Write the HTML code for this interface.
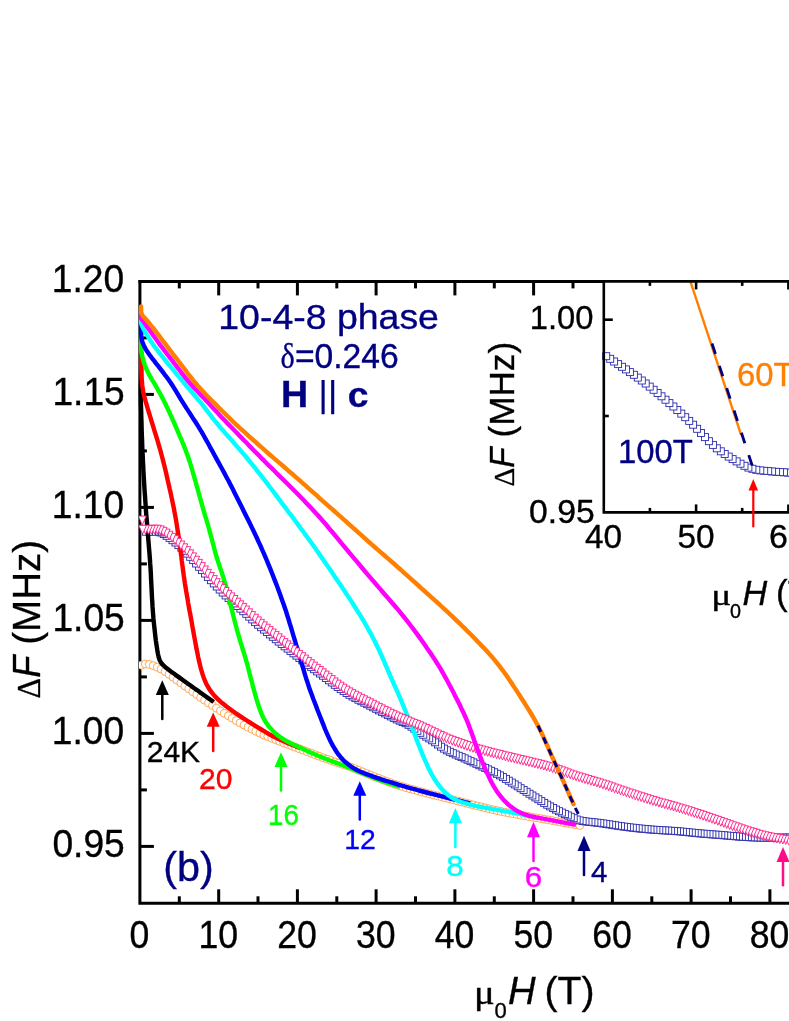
<!DOCTYPE html>
<html><head><meta charset="utf-8"><title>chart</title>
<style>html,body{margin:0;padding:0;background:#fff;}svg{display:block;will-change:transform;}text{font-family:"Liberation Sans",sans-serif;}.sf{font-family:"Liberation Serif",serif;}</style></head><body>
<svg width="789" height="1021" viewBox="0 0 789 1021">
<rect width="789" height="1021" fill="#fff"/>
<defs><clipPath id="pc"><rect x="139" y="281" width="660" height="622"/></clipPath></defs>
<g stroke="#000" stroke-width="3" fill="none" stroke-linecap="butt">
<path d="M139.9 280 V903.3 H789"/>
<path d="M138.5 281.4 H789"/>
</g>
<g stroke="#000" stroke-width="3" fill="none">
<path d="M179.3 903.3 v-7"/>
<path d="M179.3 281.4 v7"/>
<path d="M218.7 903.3 v-14"/>
<path d="M218.7 281.4 v14"/>
<path d="M258 903.3 v-7"/>
<path d="M258 281.4 v7"/>
<path d="M297.4 903.3 v-14"/>
<path d="M297.4 281.4 v14"/>
<path d="M336.8 903.3 v-7"/>
<path d="M336.8 281.4 v7"/>
<path d="M376.1 903.3 v-14"/>
<path d="M376.1 281.4 v14"/>
<path d="M415.5 903.3 v-7"/>
<path d="M415.5 281.4 v7"/>
<path d="M454.9 903.3 v-14"/>
<path d="M454.9 281.4 v14"/>
<path d="M494.3 903.3 v-7"/>
<path d="M494.3 281.4 v7"/>
<path d="M533.6 903.3 v-14"/>
<path d="M533.6 281.4 v14"/>
<path d="M573 903.3 v-7"/>
<path d="M573 281.4 v7"/>
<path d="M612.4 903.3 v-14"/>
<path d="M651.8 903.3 v-7"/>
<path d="M691.1 903.3 v-14"/>
<path d="M730.5 903.3 v-7"/>
<path d="M769.9 903.3 v-14"/>
<path d="M139.9 337.9 h7"/>
<path d="M139.9 394.4 h14"/>
<path d="M139.9 450.9 h7"/>
<path d="M139.9 507.4 h14"/>
<path d="M139.9 563.9 h7"/>
<path d="M139.9 620.4 h14"/>
<path d="M139.9 676.9 h7"/>
<path d="M139.9 733.4 h14"/>
<path d="M139.9 789.9 h7"/>
<path d="M139.9 846.4 h14"/>
</g>
<g clip-path="url(#pc)" fill="#fff" stroke="#ff9a3a" stroke-width="0.85">
<circle cx="141.4" cy="665.2" r="3.95"/>
<circle cx="145.3" cy="664" r="3.95"/>
<circle cx="149.3" cy="664.4" r="3.95"/>
<circle cx="153.2" cy="665.6" r="3.95"/>
<circle cx="157.2" cy="667.2" r="3.95"/>
<circle cx="161.1" cy="669.1" r="3.95"/>
<circle cx="165.1" cy="671.6" r="3.95"/>
<circle cx="169" cy="674.3" r="3.95"/>
<circle cx="173" cy="677.2" r="3.95"/>
<circle cx="176.9" cy="680.2" r="3.95"/>
<circle cx="180.9" cy="683" r="3.95"/>
<circle cx="184.8" cy="685.9" r="3.95"/>
<circle cx="188.8" cy="688.8" r="3.95"/>
<circle cx="192.7" cy="691.7" r="3.95"/>
<circle cx="196.7" cy="694.6" r="3.95"/>
<circle cx="200.6" cy="697.5" r="3.95"/>
<circle cx="204.6" cy="700.2" r="3.95"/>
<circle cx="208.5" cy="702.9" r="3.95"/>
<circle cx="212.5" cy="705.6" r="3.95"/>
<circle cx="216.4" cy="708.2" r="3.95"/>
<circle cx="220.4" cy="710.8" r="3.95"/>
<circle cx="224.3" cy="713.3" r="3.95"/>
<circle cx="228.3" cy="715.8" r="3.95"/>
<circle cx="232.2" cy="718.2" r="3.95"/>
<circle cx="236.2" cy="720.6" r="3.95"/>
<circle cx="240.1" cy="722.9" r="3.95"/>
<circle cx="244.1" cy="725.1" r="3.95"/>
<circle cx="248" cy="727.3" r="3.95"/>
<circle cx="252" cy="729.3" r="3.95"/>
<circle cx="255.9" cy="731.3" r="3.95"/>
<circle cx="259.9" cy="733.2" r="3.95"/>
<circle cx="263.8" cy="735" r="3.95"/>
<circle cx="267.8" cy="736.6" r="3.95"/>
<circle cx="271.7" cy="738.2" r="3.95"/>
<circle cx="275.7" cy="739.7" r="3.95"/>
<circle cx="279.6" cy="741.3" r="3.95"/>
<circle cx="283.6" cy="742.8" r="3.95"/>
<circle cx="287.5" cy="744.3" r="3.95"/>
<circle cx="291.5" cy="745.8" r="3.95"/>
<circle cx="295.4" cy="747.3" r="3.95"/>
<circle cx="299.4" cy="748.7" r="3.95"/>
<circle cx="303.3" cy="750.2" r="3.95"/>
<circle cx="307.3" cy="751.7" r="3.95"/>
<circle cx="311.2" cy="753.2" r="3.95"/>
<circle cx="315.2" cy="754.7" r="3.95"/>
<circle cx="319.1" cy="756.2" r="3.95"/>
<circle cx="323.1" cy="757.7" r="3.95"/>
<circle cx="327" cy="759.1" r="3.95"/>
<circle cx="331" cy="760.5" r="3.95"/>
<circle cx="334.9" cy="761.9" r="3.95"/>
<circle cx="338.9" cy="763.1" r="3.95"/>
<circle cx="342.8" cy="764.4" r="3.95"/>
<circle cx="346.8" cy="765.6" r="3.95"/>
<circle cx="350.7" cy="767" r="3.95"/>
<circle cx="354.7" cy="768.5" r="3.95"/>
<circle cx="358.6" cy="770.2" r="3.95"/>
<circle cx="362.6" cy="771.8" r="3.95"/>
<circle cx="366.5" cy="773.4" r="3.95"/>
<circle cx="370.5" cy="775" r="3.95"/>
<circle cx="374.4" cy="776.6" r="3.95"/>
<circle cx="378.4" cy="778.1" r="3.95"/>
<circle cx="382.3" cy="779.7" r="3.95"/>
<circle cx="386.3" cy="781.2" r="3.95"/>
<circle cx="390.2" cy="782.6" r="3.95"/>
<circle cx="394.2" cy="784" r="3.95"/>
<circle cx="398.1" cy="785.3" r="3.95"/>
<circle cx="402.1" cy="786.5" r="3.95"/>
<circle cx="406" cy="787.7" r="3.95"/>
<circle cx="410" cy="788.8" r="3.95"/>
<circle cx="413.9" cy="789.8" r="3.95"/>
<circle cx="417.9" cy="790.9" r="3.95"/>
<circle cx="421.8" cy="791.9" r="3.95"/>
<circle cx="425.8" cy="793" r="3.95"/>
<circle cx="429.7" cy="794" r="3.95"/>
<circle cx="433.7" cy="795" r="3.95"/>
<circle cx="437.6" cy="795.9" r="3.95"/>
<circle cx="441.6" cy="796.9" r="3.95"/>
<circle cx="445.5" cy="797.9" r="3.95"/>
<circle cx="449.5" cy="798.9" r="3.95"/>
<circle cx="453.4" cy="799.9" r="3.95"/>
<circle cx="457.4" cy="800.9" r="3.95"/>
<circle cx="461.3" cy="801.9" r="3.95"/>
<circle cx="465.3" cy="802.9" r="3.95"/>
<circle cx="469.2" cy="803.9" r="3.95"/>
<circle cx="473.2" cy="804.9" r="3.95"/>
<circle cx="477.1" cy="805.9" r="3.95"/>
<circle cx="481.1" cy="806.8" r="3.95"/>
<circle cx="485" cy="807.8" r="3.95"/>
<circle cx="489" cy="808.8" r="3.95"/>
<circle cx="492.9" cy="809.7" r="3.95"/>
<circle cx="496.9" cy="810.6" r="3.95"/>
<circle cx="500.8" cy="811.4" r="3.95"/>
<circle cx="504.8" cy="812.2" r="3.95"/>
<circle cx="508.7" cy="813" r="3.95"/>
<circle cx="512.7" cy="813.7" r="3.95"/>
<circle cx="516.6" cy="814.4" r="3.95"/>
<circle cx="520.6" cy="815.1" r="3.95"/>
<circle cx="524.5" cy="815.8" r="3.95"/>
<circle cx="528.5" cy="816.5" r="3.95"/>
<circle cx="532.4" cy="817.2" r="3.95"/>
<circle cx="536.4" cy="817.9" r="3.95"/>
<circle cx="540.3" cy="818.5" r="3.95"/>
<circle cx="544.3" cy="819.2" r="3.95"/>
<circle cx="548.2" cy="819.9" r="3.95"/>
<circle cx="552.2" cy="820.6" r="3.95"/>
<circle cx="556.1" cy="821.3" r="3.95"/>
<circle cx="560.1" cy="822" r="3.95"/>
<circle cx="564" cy="822.7" r="3.95"/>
<circle cx="568" cy="823.4" r="3.95"/>
<circle cx="571.9" cy="824.1" r="3.95"/>
<circle cx="575.9" cy="824.8" r="3.95"/>
<circle cx="579.8" cy="825.5" r="3.95"/>
</g>
<g clip-path="url(#pc)" fill="#fff" stroke="#2a2aac" stroke-width="0.9">
<rect x="788.6" y="834.1" width="7.0" height="7.0"/>
<rect x="785.6" y="834.1" width="7.0" height="7.0"/>
<rect x="782.7" y="834.1" width="7.0" height="7.0"/>
<rect x="779.7" y="834.1" width="7.0" height="7.0"/>
<rect x="776.8" y="834.2" width="7.0" height="7.0"/>
<rect x="773.8" y="834.2" width="7.0" height="7.0"/>
<rect x="770.9" y="834.2" width="7.0" height="7.0"/>
<rect x="767.9" y="834.2" width="7.0" height="7.0"/>
<rect x="765" y="834.2" width="7.0" height="7.0"/>
<rect x="762" y="834.1" width="7.0" height="7.0"/>
<rect x="759.1" y="834.1" width="7.0" height="7.0"/>
<rect x="756.1" y="834.1" width="7.0" height="7.0"/>
<rect x="753.2" y="834" width="7.0" height="7.0"/>
<rect x="750.2" y="833.9" width="7.0" height="7.0"/>
<rect x="747.3" y="833.8" width="7.0" height="7.0"/>
<rect x="744.3" y="833.6" width="7.0" height="7.0"/>
<rect x="741.4" y="833.5" width="7.0" height="7.0"/>
<rect x="738.4" y="833.3" width="7.0" height="7.0"/>
<rect x="735.5" y="833.1" width="7.0" height="7.0"/>
<rect x="732.5" y="832.8" width="7.0" height="7.0"/>
<rect x="729.6" y="832.6" width="7.0" height="7.0"/>
<rect x="726.6" y="832.3" width="7.0" height="7.0"/>
<rect x="723.7" y="832.1" width="7.0" height="7.0"/>
<rect x="720.7" y="831.8" width="7.0" height="7.0"/>
<rect x="717.8" y="831.6" width="7.0" height="7.0"/>
<rect x="714.8" y="831.3" width="7.0" height="7.0"/>
<rect x="711.9" y="831.1" width="7.0" height="7.0"/>
<rect x="708.9" y="830.9" width="7.0" height="7.0"/>
<rect x="706" y="830.7" width="7.0" height="7.0"/>
<rect x="703" y="830.4" width="7.0" height="7.0"/>
<rect x="700.1" y="830.2" width="7.0" height="7.0"/>
<rect x="697.1" y="830" width="7.0" height="7.0"/>
<rect x="694.2" y="829.7" width="7.0" height="7.0"/>
<rect x="691.2" y="829.4" width="7.0" height="7.0"/>
<rect x="688.3" y="829.1" width="7.0" height="7.0"/>
<rect x="685.3" y="828.8" width="7.0" height="7.0"/>
<rect x="682.4" y="828.5" width="7.0" height="7.0"/>
<rect x="679.4" y="828.2" width="7.0" height="7.0"/>
<rect x="676.5" y="827.9" width="7.0" height="7.0"/>
<rect x="673.5" y="827.7" width="7.0" height="7.0"/>
<rect x="670.6" y="827.4" width="7.0" height="7.0"/>
<rect x="667.6" y="827.3" width="7.0" height="7.0"/>
<rect x="664.7" y="827.1" width="7.0" height="7.0"/>
<rect x="661.7" y="826.9" width="7.0" height="7.0"/>
<rect x="658.8" y="826.8" width="7.0" height="7.0"/>
<rect x="655.8" y="826.6" width="7.0" height="7.0"/>
<rect x="652.9" y="826.4" width="7.0" height="7.0"/>
<rect x="649.9" y="826.2" width="7.0" height="7.0"/>
<rect x="647" y="826" width="7.0" height="7.0"/>
<rect x="644" y="825.7" width="7.0" height="7.0"/>
<rect x="641.1" y="825.4" width="7.0" height="7.0"/>
<rect x="638.1" y="825.2" width="7.0" height="7.0"/>
<rect x="635.2" y="824.9" width="7.0" height="7.0"/>
<rect x="632.2" y="824.6" width="7.0" height="7.0"/>
<rect x="629.3" y="824.2" width="7.0" height="7.0"/>
<rect x="626.3" y="823.9" width="7.0" height="7.0"/>
<rect x="623.4" y="823.5" width="7.0" height="7.0"/>
<rect x="620.4" y="823.1" width="7.0" height="7.0"/>
<rect x="617.5" y="822.7" width="7.0" height="7.0"/>
<rect x="614.5" y="822.3" width="7.0" height="7.0"/>
<rect x="611.6" y="821.8" width="7.0" height="7.0"/>
<rect x="608.6" y="821.3" width="7.0" height="7.0"/>
<rect x="605.7" y="820.9" width="7.0" height="7.0"/>
<rect x="602.7" y="820.4" width="7.0" height="7.0"/>
<rect x="599.8" y="820" width="7.0" height="7.0"/>
<rect x="596.8" y="819.6" width="7.0" height="7.0"/>
<rect x="593.8" y="819.2" width="7.0" height="7.0"/>
<rect x="590.9" y="818.9" width="7.0" height="7.0"/>
<rect x="587.9" y="818.6" width="7.0" height="7.0"/>
<rect x="585" y="818.3" width="7.0" height="7.0"/>
<rect x="582" y="817.9" width="7.0" height="7.0"/>
<rect x="579.1" y="817.5" width="7.0" height="7.0"/>
<rect x="576.1" y="816.9" width="7.0" height="7.0"/>
<rect x="573.2" y="816" width="7.0" height="7.0"/>
<rect x="570.2" y="814.7" width="7.0" height="7.0"/>
<rect x="567.3" y="813.3" width="7.0" height="7.0"/>
<rect x="564.3" y="811.9" width="7.0" height="7.0"/>
<rect x="561.4" y="810.6" width="7.0" height="7.0"/>
<rect x="558.4" y="809.1" width="7.0" height="7.0"/>
<rect x="555.5" y="807.7" width="7.0" height="7.0"/>
<rect x="552.5" y="806.1" width="7.0" height="7.0"/>
<rect x="549.6" y="804.5" width="7.0" height="7.0"/>
<rect x="546.6" y="802.9" width="7.0" height="7.0"/>
<rect x="543.7" y="801.2" width="7.0" height="7.0"/>
<rect x="540.7" y="799.4" width="7.0" height="7.0"/>
<rect x="537.8" y="797.6" width="7.0" height="7.0"/>
<rect x="534.8" y="795.7" width="7.0" height="7.0"/>
<rect x="531.9" y="793.9" width="7.0" height="7.0"/>
<rect x="528.9" y="792" width="7.0" height="7.0"/>
<rect x="526" y="790.2" width="7.0" height="7.0"/>
<rect x="523" y="788.3" width="7.0" height="7.0"/>
<rect x="520.1" y="786.5" width="7.0" height="7.0"/>
<rect x="517.1" y="784.7" width="7.0" height="7.0"/>
<rect x="514.2" y="782.8" width="7.0" height="7.0"/>
<rect x="511.2" y="780.9" width="7.0" height="7.0"/>
<rect x="508.3" y="779.1" width="7.0" height="7.0"/>
<rect x="505.3" y="777.2" width="7.0" height="7.0"/>
<rect x="502.4" y="775.4" width="7.0" height="7.0"/>
<rect x="499.4" y="773.6" width="7.0" height="7.0"/>
<rect x="496.5" y="771.9" width="7.0" height="7.0"/>
<rect x="493.5" y="770.3" width="7.0" height="7.0"/>
<rect x="490.6" y="768.8" width="7.0" height="7.0"/>
<rect x="487.6" y="767.3" width="7.0" height="7.0"/>
<rect x="484.7" y="765.9" width="7.0" height="7.0"/>
<rect x="481.7" y="764.4" width="7.0" height="7.0"/>
<rect x="478.8" y="763.1" width="7.0" height="7.0"/>
<rect x="475.8" y="761.7" width="7.0" height="7.0"/>
<rect x="472.9" y="760.3" width="7.0" height="7.0"/>
<rect x="469.9" y="758.9" width="7.0" height="7.0"/>
<rect x="467" y="757.6" width="7.0" height="7.0"/>
<rect x="464" y="756.2" width="7.0" height="7.0"/>
<rect x="461.1" y="754.9" width="7.0" height="7.0"/>
<rect x="458.1" y="753.6" width="7.0" height="7.0"/>
<rect x="455.2" y="752.3" width="7.0" height="7.0"/>
<rect x="452.2" y="751" width="7.0" height="7.0"/>
<rect x="449.3" y="749.7" width="7.0" height="7.0"/>
<rect x="446.3" y="748.3" width="7.0" height="7.0"/>
<rect x="443.4" y="746.8" width="7.0" height="7.0"/>
<rect x="440.4" y="745.1" width="7.0" height="7.0"/>
<rect x="437.5" y="743.2" width="7.0" height="7.0"/>
<rect x="434.5" y="741" width="7.0" height="7.0"/>
<rect x="431.6" y="738.8" width="7.0" height="7.0"/>
<rect x="428.6" y="736.8" width="7.0" height="7.0"/>
<rect x="425.7" y="734.9" width="7.0" height="7.0"/>
<rect x="422.7" y="733.1" width="7.0" height="7.0"/>
<rect x="419.8" y="731.2" width="7.0" height="7.0"/>
<rect x="416.8" y="729.3" width="7.0" height="7.0"/>
<rect x="413.9" y="727.3" width="7.0" height="7.0"/>
<rect x="410.9" y="725.2" width="7.0" height="7.0"/>
<rect x="408" y="723.2" width="7.0" height="7.0"/>
<rect x="405" y="721.3" width="7.0" height="7.0"/>
<rect x="402.1" y="719.7" width="7.0" height="7.0"/>
<rect x="399.1" y="718.5" width="7.0" height="7.0"/>
<rect x="396.2" y="717.2" width="7.0" height="7.0"/>
<rect x="393.2" y="715.9" width="7.0" height="7.0"/>
<rect x="390.3" y="714.4" width="7.0" height="7.0"/>
<rect x="387.3" y="712.9" width="7.0" height="7.0"/>
<rect x="384.4" y="711.4" width="7.0" height="7.0"/>
<rect x="381.4" y="709.9" width="7.0" height="7.0"/>
<rect x="378.5" y="708.4" width="7.0" height="7.0"/>
<rect x="375.5" y="706.9" width="7.0" height="7.0"/>
<rect x="372.6" y="705.3" width="7.0" height="7.0"/>
<rect x="369.6" y="703.8" width="7.0" height="7.0"/>
<rect x="366.7" y="702.2" width="7.0" height="7.0"/>
<rect x="363.7" y="700.7" width="7.0" height="7.0"/>
<rect x="360.8" y="699.2" width="7.0" height="7.0"/>
<rect x="357.8" y="697.7" width="7.0" height="7.0"/>
<rect x="354.9" y="696.2" width="7.0" height="7.0"/>
<rect x="351.9" y="694.6" width="7.0" height="7.0"/>
<rect x="349" y="693" width="7.0" height="7.0"/>
<rect x="346" y="691.3" width="7.0" height="7.0"/>
<rect x="343.1" y="689.5" width="7.0" height="7.0"/>
<rect x="340.1" y="687.6" width="7.0" height="7.0"/>
<rect x="337.2" y="685.6" width="7.0" height="7.0"/>
<rect x="334.2" y="683.5" width="7.0" height="7.0"/>
<rect x="331.3" y="681.3" width="7.0" height="7.0"/>
<rect x="328.3" y="679" width="7.0" height="7.0"/>
<rect x="325.4" y="676.8" width="7.0" height="7.0"/>
<rect x="322.4" y="674.5" width="7.0" height="7.0"/>
<rect x="319.5" y="672.2" width="7.0" height="7.0"/>
<rect x="316.5" y="670" width="7.0" height="7.0"/>
<rect x="313.6" y="667.9" width="7.0" height="7.0"/>
<rect x="310.6" y="665.7" width="7.0" height="7.0"/>
<rect x="307.7" y="663.6" width="7.0" height="7.0"/>
<rect x="304.7" y="661.4" width="7.0" height="7.0"/>
<rect x="301.8" y="659.1" width="7.0" height="7.0"/>
<rect x="298.8" y="656.8" width="7.0" height="7.0"/>
<rect x="295.9" y="654.5" width="7.0" height="7.0"/>
<rect x="292.9" y="652.1" width="7.0" height="7.0"/>
<rect x="290" y="649.8" width="7.0" height="7.0"/>
<rect x="287" y="647.5" width="7.0" height="7.0"/>
<rect x="284.1" y="645.1" width="7.0" height="7.0"/>
<rect x="281.1" y="642.8" width="7.0" height="7.0"/>
<rect x="278.2" y="640.5" width="7.0" height="7.0"/>
<rect x="275.2" y="638.1" width="7.0" height="7.0"/>
<rect x="272.3" y="635.7" width="7.0" height="7.0"/>
<rect x="269.3" y="633.3" width="7.0" height="7.0"/>
<rect x="266.4" y="630.9" width="7.0" height="7.0"/>
<rect x="263.4" y="628.5" width="7.0" height="7.0"/>
<rect x="260.5" y="626.1" width="7.0" height="7.0"/>
<rect x="257.5" y="623.7" width="7.0" height="7.0"/>
<rect x="254.6" y="621.2" width="7.0" height="7.0"/>
<rect x="251.6" y="618.6" width="7.0" height="7.0"/>
<rect x="248.7" y="615.9" width="7.0" height="7.0"/>
<rect x="245.7" y="613.1" width="7.0" height="7.0"/>
<rect x="242.8" y="610.3" width="7.0" height="7.0"/>
<rect x="239.8" y="607.7" width="7.0" height="7.0"/>
<rect x="236.9" y="605.1" width="7.0" height="7.0"/>
<rect x="233.9" y="602.5" width="7.0" height="7.0"/>
<rect x="231" y="599.9" width="7.0" height="7.0"/>
<rect x="228" y="597.2" width="7.0" height="7.0"/>
<rect x="225.1" y="594.6" width="7.0" height="7.0"/>
<rect x="222.1" y="591.9" width="7.0" height="7.0"/>
<rect x="219.2" y="589" width="7.0" height="7.0"/>
<rect x="216.2" y="586" width="7.0" height="7.0"/>
<rect x="213.3" y="583" width="7.0" height="7.0"/>
<rect x="210.3" y="579.9" width="7.0" height="7.0"/>
<rect x="207.4" y="576.7" width="7.0" height="7.0"/>
<rect x="204.4" y="573.4" width="7.0" height="7.0"/>
<rect x="201.5" y="570" width="7.0" height="7.0"/>
<rect x="198.5" y="566.6" width="7.0" height="7.0"/>
<rect x="195.6" y="563.3" width="7.0" height="7.0"/>
<rect x="192.6" y="560" width="7.0" height="7.0"/>
<rect x="189.7" y="556.6" width="7.0" height="7.0"/>
<rect x="186.7" y="553.3" width="7.0" height="7.0"/>
<rect x="183.8" y="550.1" width="7.0" height="7.0"/>
<rect x="180.8" y="547.2" width="7.0" height="7.0"/>
<rect x="177.9" y="544.3" width="7.0" height="7.0"/>
<rect x="174.9" y="541.6" width="7.0" height="7.0"/>
<rect x="172" y="539" width="7.0" height="7.0"/>
<rect x="169" y="536.7" width="7.0" height="7.0"/>
<rect x="166.1" y="534.4" width="7.0" height="7.0"/>
<rect x="163.1" y="532.3" width="7.0" height="7.0"/>
<rect x="160.2" y="530.5" width="7.0" height="7.0"/>
<rect x="157.2" y="529" width="7.0" height="7.0"/>
<rect x="154.3" y="528.2" width="7.0" height="7.0"/>
<rect x="151.3" y="528" width="7.0" height="7.0"/>
<rect x="148.4" y="528.2" width="7.0" height="7.0"/>
<rect x="145.4" y="528.3" width="7.0" height="7.0"/>
<rect x="142.5" y="528.2" width="7.0" height="7.0"/>
</g>
<path d="M141.1 352 L141.1 372 L141 375.6 L141 379.2 L140.9 382.9 L140.8 386.4 L140.8 389.9 L140.8 393.5 L140.9 397.4 L140.9 401.7 L141 406.3 L141.2 411.4 L141.3 416.9 L141.5 422.2 L141.6 426.9 L141.7 430.5 L141.8 433.6 L141.9 436.7 L142.1 440.1 L142.2 444.4 L142.4 449.5 L142.7 455 L142.9 460.4 L143.2 465.6 L143.4 470.7 L143.7 475.8 L144 480.8 L144.3 485.8 L144.6 490.8 L145 495.8 L145.3 500.8 L145.7 505.9 L146 511.1 L146.4 516.4 L146.9 521.8 L147.3 527.3 L147.8 532.7 L148.2 538 L148.6 543.1 L149 547.9 L149.4 552.4 L149.7 556.5 L150 560.3 L150.2 563.9 L150.5 567.6 L150.7 571.1 L150.9 574.5 L151 577.9 L151.2 581.5 L151.4 585.3 L151.6 589.4 L151.8 593.6 L152 597.8 L152.3 602 L152.5 606.2 L152.8 610.2 L153.1 614.2 L153.4 618.2 L153.8 622.1 L154.2 625.9 L154.6 629.6 L155 633.2 L155.4 636.7 L155.8 640.2 L156.3 643.6 L156.8 646.9 L157.3 650.2 L157.9 653.6 L158.6 656.9 L159.6 660 L161.1 662.8 L163.2 665.2 L165.7 667.5 L168.4 669.6 L171.2 671.7 L174.2 673.8 L177 675.9 L179.8 677.9 L182.4 679.8 L185.2 681.8 L188 683.8 L190.9 685.8 L193.9 688 L197 690.1 L199.7 692.1 L202.4 694 L205.2 696 L208.2 698.1 L211.3 700.3 L213.7 702" fill="none" stroke="#000" stroke-width="4.4" stroke-linejoin="round" />
<path d="M141.1 340 L141.1 355.7 L141.1 359.1 L141.2 362.6 L141.2 366 L141.3 369.4 L141.4 372.7 L141.5 376 L141.7 379.3 L142 382.5 L142.3 385.8 L142.8 389 L143.3 392.2 L144 395.5 L144.9 398.7 L145.8 402 L146.8 405.4 L147.8 408.9 L148.9 412.5 L150.1 416.3 L151.2 420.1 L152.4 424 L153.6 427.9 L154.8 431.8 L156 435.7 L157.2 439.5 L158.3 443.3 L159.4 447.1 L160.5 450.9 L161.5 454.7 L162.5 458.5 L163.5 462.4 L164.5 466.2 L165.4 470 L166.3 473.8 L167.1 477.6 L168 481.4 L168.9 485.2 L169.7 489 L170.6 492.8 L171.4 496.6 L172.2 500.4 L173 504.2 L173.8 508 L174.5 511.8 L175.2 515.6 L175.9 519.4 L176.5 523.2 L177.1 527 L177.7 530.8 L178.3 534.6 L178.9 538.4 L179.4 542.2 L179.9 546 L180.4 549.8 L180.9 553.6 L181.4 557.3 L181.8 561 L182.3 564.7 L182.8 568.4 L183.3 572.1 L183.8 575.9 L184.4 579.7 L184.9 583.6 L185.6 587.5 L186.2 591.4 L186.9 595.3 L187.6 599.2 L188.2 603.1 L188.9 607 L189.6 611 L190.4 614.9 L191.1 618.8 L191.8 622.6 L192.4 626.4 L193.1 630.2 L193.8 634 L194.5 637.8 L195.2 641.7 L195.9 645.5 L196.6 649.3 L197.4 653 L198.1 656.7 L198.9 660.3 L199.7 663.8 L200.5 667.1 L201.4 670.4 L202.4 673.7 L203.5 676.9 L204.7 680.1 L206 683.2 L207.6 686.2 L209.3 689.1 L211.3 691.9 L213.5 694.6 L215.8 697.2 L218.3 699.6 L220.8 701.9 L223.5 704 L226.2 706.2 L228.9 708.2 L231.6 710.2 L234.4 712.2 L237.2 714.2 L240.1 716.1 L243.1 718.1 L246.1 720 L249.1 722 L252.2 723.9 L255.2 725.8 L258.2 727.7 L261.2 729.5 L264.1 731.2 L267 733 L269.9 734.6 L272.9 736.2 L276 737.8 L279.1 739.3 L282.3 740.7 L285.4 742.1 L288.6 743.4 L291.7 744.7 L295 746 L298.4 747.4 L300 748" fill="none" stroke="#ff0000" stroke-width="4.4" stroke-linejoin="round" />
<path d="M141.1 327 L141.1 342 L141.1 345.5 L141.2 348.7 L141.4 352 L142 355.2 L142.8 358.4 L143.7 361.6 L144.7 364.7 L145.8 367.7 L147.2 370.7 L148.6 373.6 L150.1 376.4 L151.7 379.2 L153.4 381.9 L155.1 384.7 L156.7 387.5 L158.3 390.4 L159.9 393.3 L161.5 396.2 L163.1 399.3 L164.7 402.4 L166.3 405.6 L167.9 409.1 L169.5 412.6 L171.2 416.3 L172.9 420.1 L174.6 424 L176.3 427.9 L178 431.8 L179.6 435.7 L181.3 439.5 L182.9 443.3 L184.4 447.1 L185.9 450.9 L187.3 454.7 L188.6 458.5 L189.9 462.4 L191.1 466.2 L192.2 470 L193.3 473.8 L194.4 477.6 L195.5 481.4 L196.5 485.2 L197.6 489 L198.7 492.8 L199.7 496.6 L200.8 500.4 L201.8 504.2 L202.9 508 L204 511.8 L205.1 515.6 L206.3 519.4 L207.4 523.2 L208.5 527 L209.5 530.8 L210.6 534.6 L211.6 538.4 L212.6 542.2 L213.6 546 L214.6 549.8 L215.6 553.6 L216.7 557.3 L217.9 561 L219.1 564.7 L220.3 568.4 L221.6 572.1 L222.8 575.8 L224 579.6 L225.1 583.3 L226.2 587 L227.1 590.6 L228 594 L228.9 597.5 L229.7 600.9 L230.5 604.5 L231.4 608.2 L232.4 612 L233.3 615.8 L234.3 619.6 L235.3 623.5 L236.3 627.2 L237.3 631 L238.4 634.8 L239.5 638.6 L240.6 642.4 L241.8 646.2 L243 650 L244.2 653.8 L245.3 657.6 L246.4 661.4 L247.5 665.2 L248.5 669 L249.4 672.8 L250.4 676.6 L251.4 680.4 L252.4 684.3 L253.4 688.2 L254.5 692.1 L255.6 696 L256.7 699.9 L257.9 703.6 L259.1 707.2 L260.3 710.7 L261.6 713.9 L263 717 L264.5 720 L266.2 722.8 L268.1 725.5 L270.2 728.1 L272.6 730.6 L275.1 733 L277.7 735.2 L280.5 737.3 L283.4 739.2 L286.3 740.9 L289.3 742.5 L292.4 744.1 L295.6 745.6 L298.7 747.1 L301.9 748.6 L305.2 750.1 L308.4 751.6 L311.8 753 L315.2 754.5 L318.6 756 L322.2 757.4 L325.7 758.8 L329.1 760.2 L332.4 761.4 L335.6 762.6 L338.8 763.8 L342 765 L345.3 766.3 L348.8 767.6 L352.3 769.1 L356 770.6 L359.7 772.1 L363.4 773.7 L367.2 775.2 L370.8 776.7 L374.4 778.1 L378 779.4 L381.4 780.7 L384.8 781.9 L388.1 783.1 L391.4 784.2 L395 785.3 L398.4 786.5 L400 787" fill="none" stroke="#00ff00" stroke-width="4.4" stroke-linejoin="round" />
<path d="M141.1 321 L141.1 329.2 L141.1 332.6 L141.2 335.9 L141.6 339.1 L142.4 342.1 L143.6 344.9 L144.9 347.7 L146.5 350.5 L148.3 353.1 L150.2 355.7 L152.1 358.3 L154.2 360.9 L156.2 363.6 L158.3 366.2 L160.4 368.9 L162.5 371.6 L164.5 374.3 L166.6 377 L168.6 379.8 L170.5 382.5 L172.3 385.3 L174.1 388.2 L175.9 391 L177.6 393.9 L179.4 396.9 L181.2 399.9 L183.1 402.9 L185 405.9 L186.9 408.9 L188.9 411.9 L190.8 414.8 L192.6 417.7 L194.5 420.5 L196.3 423.3 L198.1 426.2 L199.9 429.2 L201.9 432.4 L203.8 435.8 L205.8 439.4 L207.9 443 L209.9 446.8 L212 450.5 L214 454.3 L216.1 458.1 L218.2 461.9 L220.3 465.7 L222.4 469.5 L224.5 473.4 L226.5 477.2 L228.6 481 L230.5 484.8 L232.5 488.6 L234.4 492.4 L236.3 496.2 L238.2 500 L240.1 503.8 L242 507.6 L243.9 511.4 L245.8 515.2 L247.7 519 L249.6 522.8 L251.4 526.6 L253.3 530.4 L255.1 534.2 L256.9 538 L258.6 541.8 L260.4 545.6 L262 549.4 L263.7 553.1 L265.3 556.9 L266.9 560.6 L268.4 564.3 L269.9 567.9 L271.4 571.6 L272.8 575.2 L274.2 578.9 L275.6 582.4 L276.9 585.8 L278.1 589.1 L279.3 592.2 L280.4 595.3 L281.5 598.4 L282.6 601.5 L283.8 604.7 L284.9 608 L286.1 611.5 L287.2 615.2 L288.4 618.9 L289.5 622.7 L290.7 626.4 L291.8 630.2 L292.9 634 L294 637.7 L295.2 641.5 L296.3 645.3 L297.4 649.1 L298.6 652.9 L299.7 656.7 L300.8 660.5 L301.9 664.3 L303.1 668.1 L304.2 671.9 L305.3 675.7 L306.5 679.5 L307.8 683.3 L309 687.2 L310.4 691 L311.8 694.8 L313.2 698.7 L314.7 702.5 L316.2 706.4 L317.6 710.2 L319.1 714 L320.6 717.8 L322.1 721.6 L323.6 725.3 L325 729 L326.5 732.5 L328 735.8 L329.5 739.1 L331 742.3 L332.7 745.4 L334.5 748.5 L336.4 751.5 L338.4 754.4 L340.7 757.2 L343 759.8 L345.6 762.3 L348.3 764.5 L351.1 766.6 L354 768.4 L357 770 L360 771.4 L363.2 772.8 L366.5 774.1 L369.9 775.3 L373.4 776.6 L377 777.8 L380.7 779.1 L384.4 780.3 L388.3 781.5 L392.1 782.7 L395.9 783.9 L399.8 785.1 L403.6 786.2 L407.4 787.3 L411.2 788.4 L415.1 789.4 L418.9 790.5 L422.7 791.5 L426.5 792.5 L430.3 793.5 L434.1 794.4 L437.9 795.4 L441.8 796.4 L445.6 797.3 L449.4 798.3 L453.2 799.3 L457.1 800.2 L461 801.2 L464.7 802.2 L468 803 L470 803.5" fill="none" stroke="#0000ff" stroke-width="4.4" stroke-linejoin="round" />
<path d="M141.1 316 L141.1 323.4 L142.3 326.3 L143.7 329.3 L145.3 332.2 L147 335.1 L148.8 337.9 L150.5 340.7 L152.4 343.5 L154.3 346.2 L156.3 348.9 L158.3 351.5 L160.4 354.1 L162.5 356.7 L164.6 359.4 L166.7 362 L168.9 364.7 L171.1 367.3 L173.3 369.9 L175.4 372.6 L177.6 375.2 L179.8 377.8 L181.9 380.4 L184.1 383 L186.2 385.6 L188.4 388.2 L190.5 390.7 L192.7 393.2 L194.9 395.8 L197.1 398.3 L199.2 400.9 L201.4 403.4 L203.4 406.1 L205.5 408.7 L207.5 411.3 L209.5 414 L211.6 416.7 L213.7 419.3 L215.8 422 L218 424.7 L220.2 427.3 L222.5 429.9 L224.8 432.6 L227.1 435.2 L229.4 437.8 L231.7 440.4 L234 443 L236.3 445.6 L238.5 448.2 L240.8 450.8 L243 453.4 L245.2 455.9 L247.3 458.5 L249.4 461 L251.5 463.6 L253.5 466.1 L255.6 468.7 L257.6 471.2 L259.6 473.8 L261.6 476.3 L263.6 478.8 L265.6 481.4 L267.5 483.9 L269.4 486.5 L271.4 489 L273.3 491.5 L275.2 494.1 L277.1 496.6 L278.9 499.1 L280.8 501.6 L282.7 504.2 L284.6 506.7 L286.5 509.3 L288.4 511.8 L290.4 514.3 L292.3 516.9 L294.2 519.4 L296.1 522 L298 524.6 L299.9 527.2 L301.9 529.9 L304 532.7 L306.1 535.6 L308.3 538.7 L310.6 541.8 L312.9 545 L315.1 548.1 L317.3 551.2 L319.4 554.3 L321.6 557.5 L323.9 560.7 L326.2 564 L328.6 567.5 L331.1 571.1 L333.5 574.7 L336 578.4 L338.5 582 L340.9 585.5 L343.2 588.9 L345.3 592.2 L347.4 595.4 L349.4 598.4 L351.4 601.4 L353.2 604.2 L355 607 L356.7 609.8 L358.4 612.5 L360.1 615.2 L361.8 618 L363.6 620.9 L365.3 624 L367.2 627.2 L369.1 630.6 L371.1 634.2 L373 637.9 L374.9 641.6 L376.8 645.4 L378.6 649.1 L380.3 652.9 L382 656.7 L383.7 660.5 L385.3 664.3 L387 668.2 L388.6 672 L390.3 675.8 L391.9 679.6 L393.6 683.4 L395.3 687.1 L397 690.9 L398.6 694.7 L400.3 698.5 L401.9 702.4 L403.5 706.2 L405.1 710 L406.6 713.8 L408.2 717.6 L409.7 721.4 L411.2 725.2 L412.6 729 L414.1 732.8 L415.5 736.6 L416.9 740.4 L418.4 744.2 L420 748.1 L421.5 752 L423.1 755.8 L424.7 759.6 L426.4 763.4 L428 767 L429.7 770.4 L431.4 773.7 L433.1 776.8 L434.9 779.8 L436.8 782.6 L438.8 785.4 L441 788.1 L443.4 790.7 L446 793.2 L448.7 795.5 L451.6 797.5 L454.7 799.3 L457.9 800.8 L461.4 802.1 L464.9 803.2 L468.5 804.2 L472 805 L475.5 805.8 L478.9 806.5 L482.3 807.1 L485.7 807.8 L489.1 808.4 L492.7 809.1 L496.3 809.7 L500 810.4 L503.7 811.1 L507.4 811.7 L511 812.4 L514.6 813.1 L518.2 813.7 L521.7 814.4 L525.2 815.2 L528.6 815.9 L531.9 816.7 L535 817.5" fill="none" stroke="#00ffff" stroke-width="4.4" stroke-linejoin="round" />
<g clip-path="url(#pc)" fill="#fff" stroke="#ff1b88" stroke-width="0.9" stroke-linejoin="miter">
<path d="M790.7 836.8 h7.8 l-3.9 8.8 z"/>
<path d="M787.7 836.4 h7.8 l-3.9 8.8 z"/>
<path d="M784.8 836 h7.8 l-3.9 8.8 z"/>
<path d="M781.8 835.6 h7.8 l-3.9 8.8 z"/>
<path d="M778.9 835.2 h7.8 l-3.9 8.8 z"/>
<path d="M775.9 834.7 h7.8 l-3.9 8.8 z"/>
<path d="M773 834.2 h7.8 l-3.9 8.8 z"/>
<path d="M770 833.7 h7.8 l-3.9 8.8 z"/>
<path d="M767.1 833.1 h7.8 l-3.9 8.8 z"/>
<path d="M764.1 832.5 h7.8 l-3.9 8.8 z"/>
<path d="M761.2 831.8 h7.8 l-3.9 8.8 z"/>
<path d="M758.2 831.1 h7.8 l-3.9 8.8 z"/>
<path d="M755.3 830.3 h7.8 l-3.9 8.8 z"/>
<path d="M752.3 829.4 h7.8 l-3.9 8.8 z"/>
<path d="M749.4 828.6 h7.8 l-3.9 8.8 z"/>
<path d="M746.4 827.7 h7.8 l-3.9 8.8 z"/>
<path d="M743.5 826.8 h7.8 l-3.9 8.8 z"/>
<path d="M740.5 825.8 h7.8 l-3.9 8.8 z"/>
<path d="M737.6 824.8 h7.8 l-3.9 8.8 z"/>
<path d="M734.6 823.8 h7.8 l-3.9 8.8 z"/>
<path d="M731.7 822.8 h7.8 l-3.9 8.8 z"/>
<path d="M728.7 821.8 h7.8 l-3.9 8.8 z"/>
<path d="M725.8 820.7 h7.8 l-3.9 8.8 z"/>
<path d="M722.8 819.6 h7.8 l-3.9 8.8 z"/>
<path d="M719.9 818.6 h7.8 l-3.9 8.8 z"/>
<path d="M716.9 817.5 h7.8 l-3.9 8.8 z"/>
<path d="M714 816.4 h7.8 l-3.9 8.8 z"/>
<path d="M711 815.4 h7.8 l-3.9 8.8 z"/>
<path d="M708.1 814.4 h7.8 l-3.9 8.8 z"/>
<path d="M705.1 813.4 h7.8 l-3.9 8.8 z"/>
<path d="M702.2 812.4 h7.8 l-3.9 8.8 z"/>
<path d="M699.2 811.4 h7.8 l-3.9 8.8 z"/>
<path d="M696.3 810.4 h7.8 l-3.9 8.8 z"/>
<path d="M693.3 809.5 h7.8 l-3.9 8.8 z"/>
<path d="M690.4 808.6 h7.8 l-3.9 8.8 z"/>
<path d="M687.4 807.6 h7.8 l-3.9 8.8 z"/>
<path d="M684.5 806.7 h7.8 l-3.9 8.8 z"/>
<path d="M681.5 805.8 h7.8 l-3.9 8.8 z"/>
<path d="M678.6 804.9 h7.8 l-3.9 8.8 z"/>
<path d="M675.6 804 h7.8 l-3.9 8.8 z"/>
<path d="M672.7 803.1 h7.8 l-3.9 8.8 z"/>
<path d="M669.7 802.2 h7.8 l-3.9 8.8 z"/>
<path d="M666.8 801.4 h7.8 l-3.9 8.8 z"/>
<path d="M663.8 800.6 h7.8 l-3.9 8.8 z"/>
<path d="M660.9 799.8 h7.8 l-3.9 8.8 z"/>
<path d="M657.9 799 h7.8 l-3.9 8.8 z"/>
<path d="M655 798.2 h7.8 l-3.9 8.8 z"/>
<path d="M652 797.3 h7.8 l-3.9 8.8 z"/>
<path d="M649.1 796.5 h7.8 l-3.9 8.8 z"/>
<path d="M646.1 795.6 h7.8 l-3.9 8.8 z"/>
<path d="M643.2 794.7 h7.8 l-3.9 8.8 z"/>
<path d="M640.2 793.7 h7.8 l-3.9 8.8 z"/>
<path d="M637.3 792.8 h7.8 l-3.9 8.8 z"/>
<path d="M634.3 791.9 h7.8 l-3.9 8.8 z"/>
<path d="M631.4 790.9 h7.8 l-3.9 8.8 z"/>
<path d="M628.4 789.9 h7.8 l-3.9 8.8 z"/>
<path d="M625.5 789 h7.8 l-3.9 8.8 z"/>
<path d="M622.5 788 h7.8 l-3.9 8.8 z"/>
<path d="M619.6 787 h7.8 l-3.9 8.8 z"/>
<path d="M616.6 786 h7.8 l-3.9 8.8 z"/>
<path d="M613.7 785 h7.8 l-3.9 8.8 z"/>
<path d="M610.7 784 h7.8 l-3.9 8.8 z"/>
<path d="M607.8 782.9 h7.8 l-3.9 8.8 z"/>
<path d="M604.8 781.9 h7.8 l-3.9 8.8 z"/>
<path d="M601.9 780.9 h7.8 l-3.9 8.8 z"/>
<path d="M598.9 780 h7.8 l-3.9 8.8 z"/>
<path d="M595.9 779 h7.8 l-3.9 8.8 z"/>
<path d="M593 778.1 h7.8 l-3.9 8.8 z"/>
<path d="M590 777.2 h7.8 l-3.9 8.8 z"/>
<path d="M587.1 776.4 h7.8 l-3.9 8.8 z"/>
<path d="M584.1 775.5 h7.8 l-3.9 8.8 z"/>
<path d="M581.2 774.7 h7.8 l-3.9 8.8 z"/>
<path d="M578.2 773.8 h7.8 l-3.9 8.8 z"/>
<path d="M575.3 772.9 h7.8 l-3.9 8.8 z"/>
<path d="M572.3 772 h7.8 l-3.9 8.8 z"/>
<path d="M569.4 771 h7.8 l-3.9 8.8 z"/>
<path d="M566.4 770 h7.8 l-3.9 8.8 z"/>
<path d="M563.5 768.9 h7.8 l-3.9 8.8 z"/>
<path d="M560.5 767.8 h7.8 l-3.9 8.8 z"/>
<path d="M557.6 766.8 h7.8 l-3.9 8.8 z"/>
<path d="M554.6 765.7 h7.8 l-3.9 8.8 z"/>
<path d="M551.7 764.7 h7.8 l-3.9 8.8 z"/>
<path d="M548.7 763.7 h7.8 l-3.9 8.8 z"/>
<path d="M545.8 762.8 h7.8 l-3.9 8.8 z"/>
<path d="M542.8 762 h7.8 l-3.9 8.8 z"/>
<path d="M539.9 761.2 h7.8 l-3.9 8.8 z"/>
<path d="M536.9 760.4 h7.8 l-3.9 8.8 z"/>
<path d="M534 759.7 h7.8 l-3.9 8.8 z"/>
<path d="M531 759 h7.8 l-3.9 8.8 z"/>
<path d="M528.1 758.3 h7.8 l-3.9 8.8 z"/>
<path d="M525.1 757.6 h7.8 l-3.9 8.8 z"/>
<path d="M522.2 756.9 h7.8 l-3.9 8.8 z"/>
<path d="M519.2 756.2 h7.8 l-3.9 8.8 z"/>
<path d="M516.3 755.5 h7.8 l-3.9 8.8 z"/>
<path d="M513.3 754.8 h7.8 l-3.9 8.8 z"/>
<path d="M510.4 754.1 h7.8 l-3.9 8.8 z"/>
<path d="M507.4 753.4 h7.8 l-3.9 8.8 z"/>
<path d="M504.5 752.7 h7.8 l-3.9 8.8 z"/>
<path d="M501.5 752 h7.8 l-3.9 8.8 z"/>
<path d="M498.6 751.3 h7.8 l-3.9 8.8 z"/>
<path d="M495.6 750.5 h7.8 l-3.9 8.8 z"/>
<path d="M492.7 749.8 h7.8 l-3.9 8.8 z"/>
<path d="M489.7 749.1 h7.8 l-3.9 8.8 z"/>
<path d="M486.8 748.3 h7.8 l-3.9 8.8 z"/>
<path d="M483.8 747.6 h7.8 l-3.9 8.8 z"/>
<path d="M480.9 746.8 h7.8 l-3.9 8.8 z"/>
<path d="M477.9 746 h7.8 l-3.9 8.8 z"/>
<path d="M475 745.2 h7.8 l-3.9 8.8 z"/>
<path d="M472 744.4 h7.8 l-3.9 8.8 z"/>
<path d="M469.1 743.5 h7.8 l-3.9 8.8 z"/>
<path d="M466.1 742.6 h7.8 l-3.9 8.8 z"/>
<path d="M463.2 741.6 h7.8 l-3.9 8.8 z"/>
<path d="M460.2 740.6 h7.8 l-3.9 8.8 z"/>
<path d="M457.3 739.6 h7.8 l-3.9 8.8 z"/>
<path d="M454.3 738.6 h7.8 l-3.9 8.8 z"/>
<path d="M451.4 737.5 h7.8 l-3.9 8.8 z"/>
<path d="M448.4 736.4 h7.8 l-3.9 8.8 z"/>
<path d="M445.5 735.3 h7.8 l-3.9 8.8 z"/>
<path d="M442.5 734.1 h7.8 l-3.9 8.8 z"/>
<path d="M439.6 732.8 h7.8 l-3.9 8.8 z"/>
<path d="M436.6 731.5 h7.8 l-3.9 8.8 z"/>
<path d="M433.7 730.1 h7.8 l-3.9 8.8 z"/>
<path d="M430.7 728.7 h7.8 l-3.9 8.8 z"/>
<path d="M427.8 727.3 h7.8 l-3.9 8.8 z"/>
<path d="M424.8 725.9 h7.8 l-3.9 8.8 z"/>
<path d="M421.9 724.5 h7.8 l-3.9 8.8 z"/>
<path d="M418.9 723.1 h7.8 l-3.9 8.8 z"/>
<path d="M416 721.8 h7.8 l-3.9 8.8 z"/>
<path d="M413 720.6 h7.8 l-3.9 8.8 z"/>
<path d="M410.1 719.4 h7.8 l-3.9 8.8 z"/>
<path d="M407.1 718.2 h7.8 l-3.9 8.8 z"/>
<path d="M404.2 717 h7.8 l-3.9 8.8 z"/>
<path d="M401.2 715.8 h7.8 l-3.9 8.8 z"/>
<path d="M398.3 714.6 h7.8 l-3.9 8.8 z"/>
<path d="M395.3 713.3 h7.8 l-3.9 8.8 z"/>
<path d="M392.4 712 h7.8 l-3.9 8.8 z"/>
<path d="M389.4 710.7 h7.8 l-3.9 8.8 z"/>
<path d="M386.5 709.3 h7.8 l-3.9 8.8 z"/>
<path d="M383.5 707.8 h7.8 l-3.9 8.8 z"/>
<path d="M380.6 706.4 h7.8 l-3.9 8.8 z"/>
<path d="M377.6 704.9 h7.8 l-3.9 8.8 z"/>
<path d="M374.7 703.4 h7.8 l-3.9 8.8 z"/>
<path d="M371.7 701.9 h7.8 l-3.9 8.8 z"/>
<path d="M368.8 700.3 h7.8 l-3.9 8.8 z"/>
<path d="M365.8 698.8 h7.8 l-3.9 8.8 z"/>
<path d="M362.9 697.3 h7.8 l-3.9 8.8 z"/>
<path d="M359.9 695.8 h7.8 l-3.9 8.8 z"/>
<path d="M357 694.3 h7.8 l-3.9 8.8 z"/>
<path d="M354 692.8 h7.8 l-3.9 8.8 z"/>
<path d="M351.1 691.2 h7.8 l-3.9 8.8 z"/>
<path d="M348.1 689.6 h7.8 l-3.9 8.8 z"/>
<path d="M345.2 687.9 h7.8 l-3.9 8.8 z"/>
<path d="M342.2 686.1 h7.8 l-3.9 8.8 z"/>
<path d="M339.3 684.2 h7.8 l-3.9 8.8 z"/>
<path d="M336.3 682.2 h7.8 l-3.9 8.8 z"/>
<path d="M333.4 680.1 h7.8 l-3.9 8.8 z"/>
<path d="M330.4 677.9 h7.8 l-3.9 8.8 z"/>
<path d="M327.5 675.6 h7.8 l-3.9 8.8 z"/>
<path d="M324.5 673.3 h7.8 l-3.9 8.8 z"/>
<path d="M321.6 671.1 h7.8 l-3.9 8.8 z"/>
<path d="M318.6 668.8 h7.8 l-3.9 8.8 z"/>
<path d="M315.7 666.5 h7.8 l-3.9 8.8 z"/>
<path d="M312.7 664.3 h7.8 l-3.9 8.8 z"/>
<path d="M309.8 662.1 h7.8 l-3.9 8.8 z"/>
<path d="M306.8 659.7 h7.8 l-3.9 8.8 z"/>
<path d="M303.9 657.4 h7.8 l-3.9 8.8 z"/>
<path d="M300.9 655.1 h7.8 l-3.9 8.8 z"/>
<path d="M298 652.7 h7.8 l-3.9 8.8 z"/>
<path d="M295 650.4 h7.8 l-3.9 8.8 z"/>
<path d="M292.1 648 h7.8 l-3.9 8.8 z"/>
<path d="M289.1 645.7 h7.8 l-3.9 8.8 z"/>
<path d="M286.2 643.3 h7.8 l-3.9 8.8 z"/>
<path d="M283.2 640.9 h7.8 l-3.9 8.8 z"/>
<path d="M280.3 638.6 h7.8 l-3.9 8.8 z"/>
<path d="M277.3 636.2 h7.8 l-3.9 8.8 z"/>
<path d="M274.4 633.8 h7.8 l-3.9 8.8 z"/>
<path d="M271.4 631.4 h7.8 l-3.9 8.8 z"/>
<path d="M268.5 629 h7.8 l-3.9 8.8 z"/>
<path d="M265.5 626.6 h7.8 l-3.9 8.8 z"/>
<path d="M262.6 624.2 h7.8 l-3.9 8.8 z"/>
<path d="M259.6 621.8 h7.8 l-3.9 8.8 z"/>
<path d="M256.7 619.4 h7.8 l-3.9 8.8 z"/>
<path d="M253.7 616.9 h7.8 l-3.9 8.8 z"/>
<path d="M250.8 614.3 h7.8 l-3.9 8.8 z"/>
<path d="M247.8 611.6 h7.8 l-3.9 8.8 z"/>
<path d="M244.9 608.8 h7.8 l-3.9 8.8 z"/>
<path d="M241.9 606 h7.8 l-3.9 8.8 z"/>
<path d="M239 603.4 h7.8 l-3.9 8.8 z"/>
<path d="M236 600.8 h7.8 l-3.9 8.8 z"/>
<path d="M233.1 598.2 h7.8 l-3.9 8.8 z"/>
<path d="M230.1 595.5 h7.8 l-3.9 8.8 z"/>
<path d="M227.2 592.9 h7.8 l-3.9 8.8 z"/>
<path d="M224.2 590.3 h7.8 l-3.9 8.8 z"/>
<path d="M221.3 587.5 h7.8 l-3.9 8.8 z"/>
<path d="M218.3 584.7 h7.8 l-3.9 8.8 z"/>
<path d="M215.4 581.7 h7.8 l-3.9 8.8 z"/>
<path d="M212.4 578.7 h7.8 l-3.9 8.8 z"/>
<path d="M209.5 575.6 h7.8 l-3.9 8.8 z"/>
<path d="M206.5 572.5 h7.8 l-3.9 8.8 z"/>
<path d="M203.6 569.3 h7.8 l-3.9 8.8 z"/>
<path d="M200.6 566 h7.8 l-3.9 8.8 z"/>
<path d="M197.7 562.6 h7.8 l-3.9 8.8 z"/>
<path d="M194.7 559.4 h7.8 l-3.9 8.8 z"/>
<path d="M191.8 556.2 h7.8 l-3.9 8.8 z"/>
<path d="M188.8 552.9 h7.8 l-3.9 8.8 z"/>
<path d="M185.9 549.8 h7.8 l-3.9 8.8 z"/>
<path d="M182.9 546.7 h7.8 l-3.9 8.8 z"/>
<path d="M180 543.8 h7.8 l-3.9 8.8 z"/>
<path d="M177 541 h7.8 l-3.9 8.8 z"/>
<path d="M174.1 538.3 h7.8 l-3.9 8.8 z"/>
<path d="M171.1 535.7 h7.8 l-3.9 8.8 z"/>
<path d="M168.2 533.4 h7.8 l-3.9 8.8 z"/>
<path d="M165.2 531.2 h7.8 l-3.9 8.8 z"/>
<path d="M162.3 529.1 h7.8 l-3.9 8.8 z"/>
<path d="M159.3 527.3 h7.8 l-3.9 8.8 z"/>
<path d="M156.4 525.9 h7.8 l-3.9 8.8 z"/>
<path d="M153.4 525.2 h7.8 l-3.9 8.8 z"/>
<path d="M150.5 525.2 h7.8 l-3.9 8.8 z"/>
<path d="M147.5 525.4 h7.8 l-3.9 8.8 z"/>
<path d="M144.6 525.4 h7.8 l-3.9 8.8 z"/>
<path d="M141.6 525.3 h7.8 l-3.9 8.8 z"/>
<path d="M138.7 525.3 h7.8 l-3.9 8.8 z"/>
<path d="M138.4 516.1 h7.8 l-3.9 8.8 z"/>
</g>
<path d="M141.1 312 L141.1 318.5 L143.1 321.1 L145 323.8 L146.9 326.4 L148.7 328.9 L150.5 331.5 L152.3 334.1 L154.2 336.7 L156.1 339.3 L158 342 L159.9 344.6 L161.9 347.2 L163.9 349.8 L165.9 352.4 L167.9 355 L169.9 357.6 L171.9 360.2 L173.9 362.9 L175.9 365.5 L178 368.1 L180 370.8 L182 373.4 L184 376 L186.1 378.6 L188.2 381.1 L190.3 383.6 L192.4 386 L194.6 388.4 L196.9 390.8 L199.2 393.2 L201.5 395.7 L204 398.3 L206.5 400.9 L209 403.6 L211.6 406.4 L214.2 409.2 L216.8 411.9 L219.3 414.7 L221.8 417.4 L224.3 420 L226.7 422.6 L229.2 425.1 L231.6 427.6 L234 430 L236.5 432.5 L238.9 435.1 L241.4 437.6 L243.9 440.2 L246.5 442.8 L249 445.4 L251.6 448.1 L254.1 450.7 L256.7 453.3 L259.2 455.8 L261.6 458.3 L264.1 460.7 L266.5 463.2 L268.9 465.6 L271.4 467.9 L273.8 470.3 L276.2 472.7 L278.6 475.1 L281 477.5 L283.5 479.9 L285.9 482.3 L288.4 484.8 L290.9 487.3 L293.4 489.8 L295.9 492.3 L298.4 494.8 L300.8 497.3 L303.3 499.8 L305.8 502.4 L308.2 504.9 L310.7 507.5 L313.2 510.2 L315.7 512.9 L318.1 515.5 L320.5 518.3 L322.9 521 L325.3 523.7 L327.6 526.5 L329.9 529.3 L332.3 532.1 L334.7 535 L337.1 537.9 L339.6 540.9 L342 543.8 L344.5 546.8 L347 549.8 L349.5 552.8 L352 555.8 L354.5 558.8 L357.1 561.9 L359.6 564.9 L362.2 568 L364.7 571 L367.3 574.1 L369.9 577.1 L372.5 580.2 L375.2 583.3 L377.8 586.4 L380.5 589.4 L383.1 592.5 L385.7 595.5 L388.3 598.4 L390.7 601.2 L393.1 604 L395.5 606.8 L397.8 609.4 L400 612.1 L402.2 614.8 L404.4 617.5 L406.5 620.2 L408.8 623.1 L411 626 L413.2 628.9 L415.4 631.8 L417.5 634.6 L419.5 637.4 L421.4 640.1 L423.4 642.8 L425.3 645.5 L427.1 648.2 L429 650.9 L430.8 653.5 L432.5 656.2 L434.3 658.8 L436 661.5 L437.8 664.4 L439.7 667.4 L441.6 670.6 L443.5 674 L445.5 677.6 L447.5 681.3 L449.5 685.1 L451.5 688.8 L453.5 692.6 L455.4 696.4 L457.4 700.2 L459.3 704 L461.1 707.9 L463 711.7 L464.7 715.5 L466.4 719.3 L468 723.1 L469.4 726.9 L470.8 730.7 L472.2 734.5 L473.5 738.3 L474.8 742.1 L476.2 745.9 L477.6 749.8 L479 753.6 L480.5 757.4 L482 761.2 L483.6 765 L485.1 768.6 L486.7 772.2 L488.3 775.6 L489.9 779 L491.5 782.2 L493.2 785.3 L495 788.3 L496.8 791.2 L498.8 794 L500.9 796.7 L503.2 799.4 L505.6 801.9 L508.1 804.3 L510.8 806.6 L513.5 808.6 L516.4 810.5 L519.3 812.1 L522.4 813.5 L525.7 814.7 L529.1 815.8 L532.7 816.7 L536.4 817.5 L540.2 818.2 L544.1 818.9 L548.1 819.6 L552.1 820.3 L556.1 821.1 L560 821.8 L564 822.6 L567.9 823.3 L571.7 824.1 L575 824.7 L576 824.9" fill="none" stroke="#ff00ff" stroke-width="4.4" stroke-linejoin="round" />
<path d="M141.1 306.5 L141.1 313 L142.7 315.7 L144.8 318.1 L147 320.5 L149.1 323 L151.1 325.6 L153.2 328.1 L155.2 330.7 L157.2 333.3 L159.2 335.9 L161.2 338.5 L163.1 341.1 L165.1 343.6 L167 346.2 L169 348.7 L170.9 351.3 L172.8 353.8 L174.8 356.3 L176.7 358.8 L178.5 361.3 L180.4 363.7 L182.3 366.2 L184.2 368.7 L186.2 371.2 L188.1 373.8 L190.1 376.3 L192.1 378.9 L194.1 381.5 L196.3 384 L198.4 386.6 L200.7 389.1 L203.1 391.6 L205.5 394.2 L208 396.7 L210.5 399.3 L213.1 401.8 L215.7 404.4 L218.2 407 L220.7 409.5 L223.3 412 L225.8 414.5 L228.3 417 L230.8 419.4 L233.3 421.9 L235.9 424.3 L238.4 426.6 L240.9 429 L243.4 431.2 L245.9 433.4 L248.3 435.6 L250.7 437.8 L253.2 440 L255.7 442.2 L258.3 444.5 L260.9 446.8 L263.6 449.2 L266.3 451.6 L269 454 L271.8 456.4 L274.7 458.9 L277.6 461.4 L280.6 463.9 L283.6 466.5 L286.6 469.1 L289.6 471.8 L292.6 474.3 L295.5 476.8 L298.2 479.2 L300.9 481.5 L303.4 483.8 L305.9 485.9 L308.3 488.1 L310.6 490.1 L312.9 492.2 L315.2 494.2 L317.5 496.2 L319.7 498.3 L322 500.3 L324.3 502.3 L326.6 504.4 L328.9 506.4 L331.2 508.4 L333.6 510.5 L335.9 512.5 L338.2 514.6 L340.6 516.6 L343 518.8 L345.4 520.9 L347.8 523.1 L350.3 525.3 L352.8 527.6 L355.4 529.8 L357.9 532.1 L360.5 534.4 L363 536.7 L365.6 539 L368.1 541.3 L370.7 543.5 L373.2 545.8 L375.8 548 L378.3 550.2 L380.8 552.4 L383.3 554.5 L385.9 556.7 L388.4 558.9 L390.9 561.1 L393.5 563.3 L396 565.5 L398.5 567.8 L401.1 570 L403.6 572.3 L406.2 574.6 L408.7 576.9 L411.2 579.1 L413.8 581.4 L416.3 583.7 L418.9 586 L421.4 588.3 L423.9 590.5 L426.5 592.8 L429 595.1 L431.5 597.3 L434.1 599.6 L436.6 601.9 L439.1 604.2 L441.6 606.5 L444.2 608.8 L446.7 611.2 L449.2 613.5 L451.8 615.9 L454.3 618.3 L456.9 620.8 L459.4 623.2 L461.9 625.7 L464.5 628.2 L467 630.7 L469.6 633.3 L472.1 635.8 L474.7 638.4 L477.2 641.1 L479.8 643.7 L482.3 646.4 L484.9 649 L487.4 651.8 L489.9 654.6 L492.4 657.4 L494.9 660.4 L497.3 663.4 L499.7 666.4 L502.1 669.6 L504.5 672.8 L506.8 676.1 L509.1 679.4 L511.3 682.8 L513.5 686.1 L515.7 689.4 L517.8 692.6 L519.9 695.8 L521.9 699 L523.9 702 L525.8 705.1 L527.7 708.1 L529.5 711 L531.3 714 L533 716.9 L534.7 719.8 L536.3 722.7 L537.8 725.6 L539.3 728.4 L540.7 731.2 L542 734 L543.4 736.8 L544.6 739.6 L545.8 742.4 L547.1 745.2 L548.3 748 L549.5 750.8 L550.8 753.6 L552 756.4 L553.3 759.2 L554.6 762.1 L555.9 764.9 L557.3 767.9 L558.6 770.9 L560.1 774.1 L561.6 777.4 L563.2 781 L564.8 784.6 L566.5 788.3 L568.2 792.1 L569.8 795.9 L571.4 799.4 L572.8 802.5 L573.5 804.2" fill="none" stroke="#ff8000" stroke-width="4.4" stroke-linejoin="round" stroke-linecap="round"/>
<path d="M538 725.6 L539.4 728.7 L540.9 732.1 L542.4 735.2 L543.8 738.4 L545.3 741.6 L546.7 744.7 L548.1 747.8 L549.5 750.8 L550.8 753.8 L552.2 756.7 L553.5 759.6 L554.8 762.5 L556.1 765.4 L557.5 768.4 L558.9 771.5 L560.3 774.7 L561.9 778 L563.4 781.5 L565 785.1 L566.6 788.6 L568.1 792.1 L569.6 795.5 L571.1 798.8 L572.6 801.9 L574 805.1 L575.4 808.1 L576.9 811.1 L578.4 814.1 L580 817.2 L581.1 819.4" fill="none" stroke="#000080" stroke-width="3.0" stroke-linejoin="round" stroke-dasharray="6.8 6.1"/>
<text transform="translate(51.8 292.3) scale(0.9694 1)" font-size="38.40" fill="#000" stroke="#000" stroke-width="0.35">1.20</text>
<text transform="translate(52.4 405.3) scale(0.9694 1)" font-size="38.40" fill="#000" stroke="#000" stroke-width="0.35">1.15</text>
<text transform="translate(51.8 518.3) scale(0.9694 1)" font-size="38.40" fill="#000" stroke="#000" stroke-width="0.35">1.10</text>
<text transform="translate(52.4 631.3) scale(0.9694 1)" font-size="38.40" fill="#000" stroke="#000" stroke-width="0.35">1.05</text>
<text transform="translate(51.8 744.3) scale(0.9694 1)" font-size="38.40" fill="#000" stroke="#000" stroke-width="0.35">1.00</text>
<text transform="translate(52.4 857.3) scale(0.9694 1)" font-size="38.40" fill="#000" stroke="#000" stroke-width="0.35">0.95</text>
<text transform="translate(129.6 947.8) scale(0.9139 1)" font-size="38.97" fill="#000" stroke="#000" stroke-width="0.35">0</text>
<text transform="translate(198.4 947.8) scale(0.9139 1)" font-size="38.97" fill="#000" stroke="#000" stroke-width="0.35">10</text>
<text transform="translate(277.2 947.8) scale(0.9139 1)" font-size="38.97" fill="#000" stroke="#000" stroke-width="0.35">20</text>
<text transform="translate(355.9 947.8) scale(0.9139 1)" font-size="38.97" fill="#000" stroke="#000" stroke-width="0.35">30</text>
<text transform="translate(434.7 947.8) scale(0.9139 1)" font-size="38.97" fill="#000" stroke="#000" stroke-width="0.35">40</text>
<text transform="translate(513.4 947.8) scale(0.9139 1)" font-size="38.97" fill="#000" stroke="#000" stroke-width="0.35">50</text>
<text transform="translate(592.2 947.8) scale(0.9139 1)" font-size="38.97" fill="#000" stroke="#000" stroke-width="0.35">60</text>
<text transform="translate(670.9 947.8) scale(0.9139 1)" font-size="38.97" fill="#000" stroke="#000" stroke-width="0.35">70</text>
<text transform="translate(749.7 947.8) scale(0.9139 1)" font-size="38.97" fill="#000" stroke="#000" stroke-width="0.35">80</text>
<g transform="translate(39.7 0) rotate(-90)">
<text transform="translate(-698.5 0) scale(0.9773 1)" font-size="32.74" fill="#000" stroke="#000" stroke-width="0.35" class="sf">Δ</text>
<text transform="translate(-677.8 0) scale(0.9444 1)" font-size="38.40" fill="#000" stroke="#000" stroke-width="0.35" font-style="italic">F</text>
<text transform="translate(-644.7 0) scale(1.0019 1)" font-size="38.40" fill="#000" stroke="#000" stroke-width="0.35">(MHz)</text>
</g>
<text transform="translate(474.1 1003.5) scale(1.1685 1)" font-size="33.07" fill="#000" stroke="#000" stroke-width="0.35" class="sf">μ</text>
<text transform="translate(494.5 1017.7) scale(0.9668 1)" font-size="22.76" fill="#000" stroke="#000" stroke-width="0.35">0</text>
<text transform="translate(507.9 1003.5) scale(0.9891 1)" font-size="38.68" fill="#000" stroke="#000" stroke-width="0.35" font-style="italic">H</text>
<text transform="translate(544.5 1003.5) scale(1.0114 1)" font-size="38.68" fill="#000" stroke="#000" stroke-width="0.35">(T)</text>
<text transform="translate(218.3 329.2) scale(1.0751 1)" font-size="34.84" fill="#000080" stroke="#000080" stroke-width="0.35">10-4-8 phase</text>
<text transform="translate(280.6 367.5) scale(0.8515 1)" font-size="35.56" fill="#000080" stroke="#000080" stroke-width="0.35" class="sf">δ</text>
<text transform="translate(294.9 367.5) scale(0.9656 1)" font-size="34.84" fill="#000080" stroke="#000080" stroke-width="0.35">=0.246</text>
<text transform="translate(281 406.9) scale(1.0397 1)" font-size="36.12" fill="#000080" stroke="#000080" stroke-width="0.35" font-weight="bold">H</text>
<text transform="translate(347.8 406.9) scale(1.0764 1)" font-size="34.56" fill="#000080" stroke="#000080" stroke-width="0.35" font-weight="bold">c</text>
<path d="M323.1 380 V414.3 M332.7 380 V414.3" stroke="#000080" stroke-width="3.1" fill="none"/>
<text transform="translate(163.3 880.6) scale(1.0386 1)" font-size="39.76" fill="#000080" stroke="#000080" stroke-width="0.35">(b)</text>
<path d="M162.3 693.9 V719" stroke="#000" stroke-width="2.5" fill="none" stroke-linecap="round"/>
<path d="M162.3 680.3 L155.8 694.9 L168.8 694.9 Z" fill="#000"/>
<path d="M213.2 725.8 V751.1" stroke="#ff0000" stroke-width="2.5" fill="none" stroke-linecap="round"/>
<path d="M213.2 712.4 L206.7 726.8 L219.7 726.8 Z" fill="#ff0000"/>
<path d="M281 766 V790.5" stroke="#00ff00" stroke-width="2.5" fill="none" stroke-linecap="round"/>
<path d="M281 752.3 L274.5 767 L287.5 767 Z" fill="#00ff00"/>
<path d="M359.8 794.8 V819.5" stroke="#0000ff" stroke-width="2.5" fill="none" stroke-linecap="round"/>
<path d="M359.8 781.3 L353.3 795.8 L366.3 795.8 Z" fill="#0000ff"/>
<path d="M455.4 822.2 V847" stroke="#00ffff" stroke-width="2.5" fill="none" stroke-linecap="round"/>
<path d="M455.4 807.9 L448.9 823.2 L461.9 823.2 Z" fill="#00ffff"/>
<path d="M533.5 836.2 V861" stroke="#ff00ff" stroke-width="2.5" fill="none" stroke-linecap="round"/>
<path d="M533.5 821.8 L527 837.2 L540 837.2 Z" fill="#ff00ff"/>
<path d="M584 850 V875" stroke="#000080" stroke-width="2.5" fill="none" stroke-linecap="round"/>
<path d="M584 835.8 L577.5 851 L590.5 851 Z" fill="#000080"/>
<path d="M783 861 V885.2" stroke="#ff0c88" stroke-width="2.5" fill="none" stroke-linecap="round"/>
<path d="M783 846.9 L776.5 862 L789.5 862 Z" fill="#ff0c88"/>
<text transform="translate(146.7 762) scale(1.0151 1)" font-size="29.58" fill="#000" stroke="#000" stroke-width="0.35">24K</text>
<text transform="translate(199 789.2) scale(1.0419 1)" font-size="28.87" fill="#ff0000" stroke="#ff0000" stroke-width="0.35">20</text>
<text transform="translate(268.1 825.3) scale(0.9423 1)" font-size="29.44" fill="#00ff00" stroke="#00ff00" stroke-width="0.35">16</text>
<text transform="translate(344.2 849) scale(1.0063 1)" font-size="28.16" fill="#0000ff" stroke="#0000ff" stroke-width="0.35">12</text>
<text transform="translate(446.2 876.2) scale(1.0763 1)" font-size="29.16" fill="#00ffff" stroke="#00ffff" stroke-width="0.35">8</text>
<text transform="translate(524.8 886.9) scale(1.0601 1)" font-size="29.58" fill="#ff00ff" stroke="#ff00ff" stroke-width="0.35">6</text>
<text transform="translate(591 881.8) scale(1.0210 1)" font-size="28.87" fill="#000080" stroke="#000080" stroke-width="0.35">4</text>
<rect x="603.8" y="281.4" width="200" height="231" fill="#fff"/>
<g fill="#fff" stroke="#2a2aac" stroke-width="0.9">
<rect x="788.4" y="469.3" width="7" height="7"/>
<rect x="784.4" y="469.1" width="7" height="7"/>
<rect x="780.5" y="468.8" width="7" height="7"/>
<rect x="776.5" y="468.6" width="7" height="7"/>
<rect x="772.6" y="468.3" width="7" height="7"/>
<rect x="768.6" y="468" width="7" height="7"/>
<rect x="764.7" y="467.6" width="7" height="7"/>
<rect x="760.7" y="467.3" width="7" height="7"/>
<rect x="756.8" y="466.9" width="7" height="7"/>
<rect x="752.8" y="466.3" width="7" height="7"/>
<rect x="748.9" y="465.3" width="7" height="7"/>
<rect x="744.9" y="464.1" width="7" height="7"/>
<rect x="741" y="462.3" width="7" height="7"/>
<rect x="737" y="460.2" width="7" height="7"/>
<rect x="733.1" y="457.9" width="7" height="7"/>
<rect x="729.1" y="455.6" width="7" height="7"/>
<rect x="725.2" y="453.1" width="7" height="7"/>
<rect x="721.2" y="450.5" width="7" height="7"/>
<rect x="717.3" y="447.8" width="7" height="7"/>
<rect x="713.3" y="444.8" width="7" height="7"/>
<rect x="709.4" y="441.4" width="7" height="7"/>
<rect x="705.4" y="437.7" width="7" height="7"/>
<rect x="701.5" y="433.6" width="7" height="7"/>
<rect x="697.5" y="429.5" width="7" height="7"/>
<rect x="693.6" y="425.3" width="7" height="7"/>
<rect x="689.6" y="421.2" width="7" height="7"/>
<rect x="685.7" y="417.4" width="7" height="7"/>
<rect x="681.7" y="413.7" width="7" height="7"/>
<rect x="677.8" y="410.1" width="7" height="7"/>
<rect x="673.8" y="406.5" width="7" height="7"/>
<rect x="669.9" y="403" width="7" height="7"/>
<rect x="665.9" y="399.6" width="7" height="7"/>
<rect x="662" y="396.2" width="7" height="7"/>
<rect x="658" y="392.8" width="7" height="7"/>
<rect x="654.1" y="389.5" width="7" height="7"/>
<rect x="650.1" y="386.3" width="7" height="7"/>
<rect x="646.2" y="383.1" width="7" height="7"/>
<rect x="642.2" y="380" width="7" height="7"/>
<rect x="638.3" y="377" width="7" height="7"/>
<rect x="634.3" y="374.1" width="7" height="7"/>
<rect x="630.4" y="371.3" width="7" height="7"/>
<rect x="626.4" y="368.6" width="7" height="7"/>
<rect x="622.5" y="365.9" width="7" height="7"/>
<rect x="618.5" y="363.3" width="7" height="7"/>
<rect x="614.6" y="360.6" width="7" height="7"/>
<rect x="610.6" y="358" width="7" height="7"/>
<rect x="606.7" y="355.3" width="7" height="7"/>
<rect x="602.7" y="352.7" width="7" height="7"/>
</g>
<path d="M690.4 281.4 L741.1 434.8" stroke="#ff8000" stroke-width="2.4" fill="none"/>
<path d="M712 343.5 L752.5 466.5" stroke="#000080" stroke-width="2.8" fill="none" stroke-dasharray="11 12.5"/>
<g stroke="#000" stroke-width="2.6" fill="none">
<path d="M603.8 281.4 V512.4 H789"/>
<path d="M649.9 512.4 v-4.5"/>
<path d="M649.9 281.4 v4.5"/>
<path d="M696.1 512.4 v-8"/>
<path d="M696.1 281.4 v8"/>
<path d="M742.2 512.4 v-4.5"/>
<path d="M742.2 281.4 v4.5"/>
<path d="M788.4 512.4 v-8"/>
<path d="M788.4 281.4 v8"/>
<path d="M603.8 319.7 h9"/>
<path d="M603.8 416 h5"/>
</g>
<path d="M598.8 281.4 H789" stroke="#000" stroke-width="2.8"/>
<text transform="translate(529.7 329) scale(1.0103 1)" font-size="32.43" fill="#000" stroke="#000" stroke-width="0.35">1.00</text>
<text transform="translate(529.1 523.1) scale(1.0336 1)" font-size="32.57" fill="#000" stroke="#000" stroke-width="0.35">0.95</text>
<text transform="translate(585 548) scale(1.0256 1)" font-size="32.57" fill="#000" stroke="#000" stroke-width="0.35">40</text>
<text transform="translate(677.5 548) scale(1.0233 1)" font-size="32.57" fill="#000" stroke="#000" stroke-width="0.35">50</text>
<text transform="translate(769 548) scale(1.0446 1)" font-size="32.57" fill="#000" stroke="#000" stroke-width="0.35">60</text>
<g transform="translate(513.5 0) rotate(-90)">
<text transform="translate(-486.6 0) scale(0.9773 1)" font-size="29.90" fill="#000" stroke="#000" stroke-width="0.35" class="sf">Δ</text>
<text transform="translate(-467.7 0) scale(0.9444 1)" font-size="35.07" fill="#000" stroke="#000" stroke-width="0.35" font-style="italic">F</text>
<text transform="translate(-437.5 0) scale(1.0019 1)" font-size="35.07" fill="#000" stroke="#000" stroke-width="0.35">(MHz)</text>
</g>
<text transform="translate(711.2 604.6) scale(1.2630 1)" font-size="29.65" fill="#000" stroke="#000" stroke-width="0.35" class="sf">μ</text>
<text transform="translate(729.9 617.8) scale(0.9536 1)" font-size="20.76" fill="#000" stroke="#000" stroke-width="0.35">0</text>
<text transform="translate(742.4 604.6) scale(0.9903 1)" font-size="34.56" fill="#000" stroke="#000" stroke-width="0.35" font-style="italic">H</text>
<text transform="translate(776 604.6) scale(1.0114 1)" font-size="34.56" fill="#000" stroke="#000" stroke-width="0.35">(T)</text>
<text transform="translate(737.1 386.3) scale(1.0042 1)" font-size="32.71" fill="#ff8000" stroke="#ff8000" stroke-width="0.35">60T</text>
<text transform="translate(617.9 463.2) scale(1.0136 1)" font-size="32.43" fill="#000080" stroke="#000080" stroke-width="0.35">100T</text>
<path d="M753.3 489.5 V526.5" stroke="#ff0000" stroke-width="2.2" fill="none" stroke-linecap="round"/>
<path d="M753.3 479 L748.5 490.5 L758.1 490.5 Z" fill="#ff0000"/>
</svg></body></html>
